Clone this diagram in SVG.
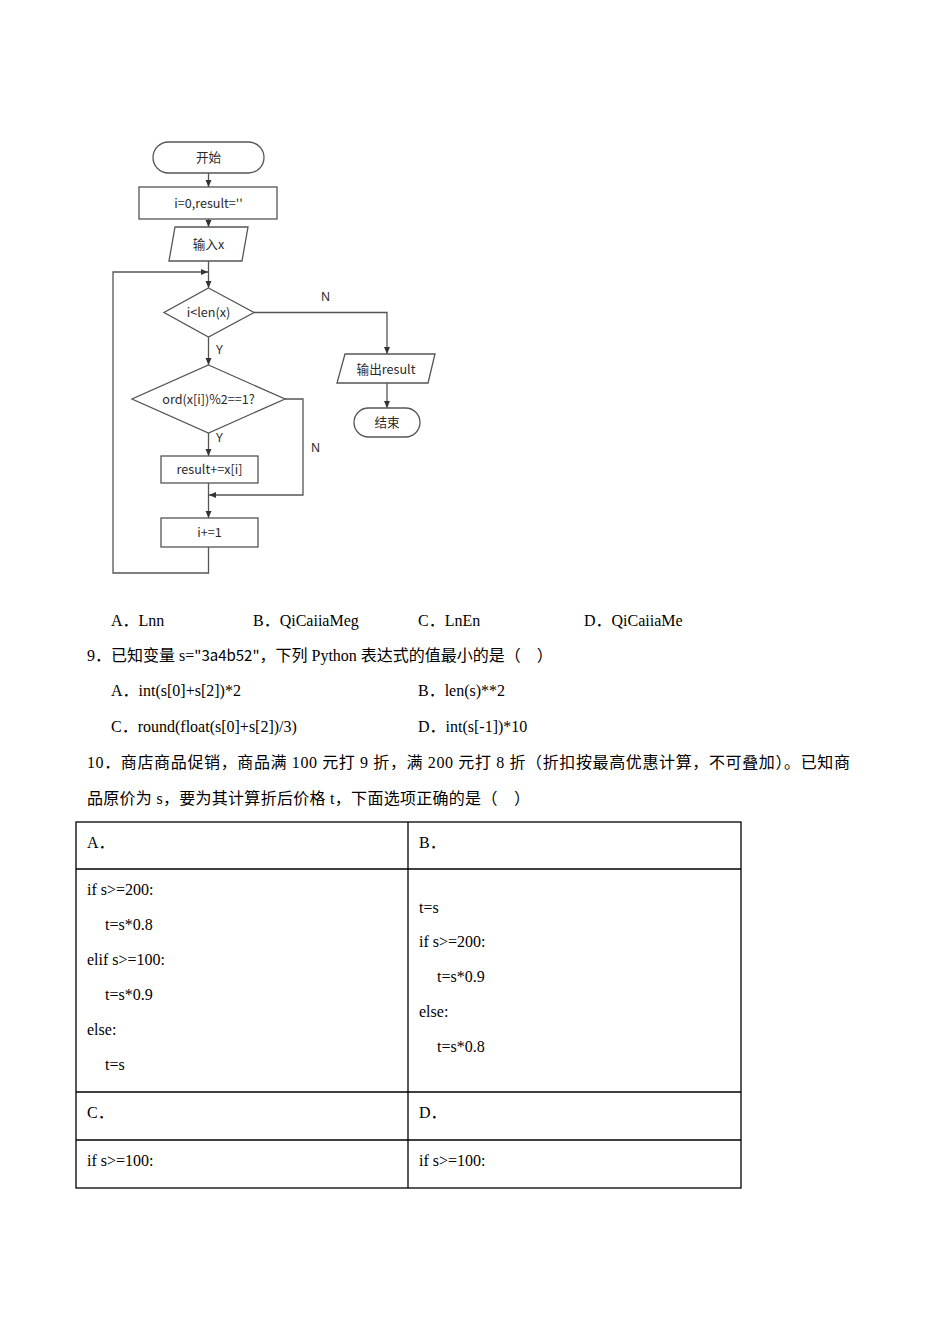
<svg xmlns="http://www.w3.org/2000/svg" width="950" height="1344" viewBox="0 0 950 1344">
<style>
.sh{fill:#fff;stroke:#555;stroke-width:1.3}
.ln{fill:none;stroke:#555;stroke-width:1.3}
.ft{font-family:"Noto Sans CJK SC","Noto Sans",sans-serif;font-size:12.6px;fill:#2a2a2a;text-anchor:middle}
.lb{font-family:"Noto Sans","Noto Sans CJK SC",sans-serif;font-size:12px;fill:#2a2a2a}
.tx{font-family:"Liberation Serif","Noto Sans CJK SC",serif;font-size:16px;fill:#000}
.tb{fill:none;stroke:#000;stroke-width:1.3}
</style>
<defs>
<marker id="ah" markerWidth="8" markerHeight="8" refX="7" refY="4" orient="auto" markerUnits="userSpaceOnUse">
<path d="M0,1 L7,4 L0,7 z" fill="#333"/>
</marker>
</defs>
<rect width="950" height="1344" fill="#fff"/>

<g id="connectors">
<line class="ln" x1="208.5" y1="173" x2="208.5" y2="187" marker-end="url(#ah)"/>
<line class="ln" x1="208.5" y1="219" x2="208.5" y2="227" marker-end="url(#ah)"/>
<line class="ln" x1="208.5" y1="261" x2="208.5" y2="288" marker-end="url(#ah)"/>
<line class="ln" x1="208.5" y1="337" x2="208.5" y2="365" marker-end="url(#ah)"/>
<line class="ln" x1="208.5" y1="433" x2="208.5" y2="456" marker-end="url(#ah)"/>
<line class="ln" x1="208.5" y1="483" x2="208.5" y2="518" marker-end="url(#ah)"/>
<polyline class="ln" points="285,399 303,399 303,495 209,495" marker-end="url(#ah)"/>
<polyline class="ln" points="208.5,547 208.5,573 113,573 113,272 208,272" marker-end="url(#ah)"/>
<polyline class="ln" points="254,312.5 387,312.5 387,354" marker-end="url(#ah)"/>
<line class="ln" x1="387" y1="383" x2="387" y2="408" marker-end="url(#ah)"/>
<text class="lb" x="216" y="354">Y</text>
<text class="lb" x="216" y="442">Y</text>
<text class="lb" x="321" y="301">N</text>
<text class="lb" x="311" y="452">N</text>
</g>

<g id="start">
<rect class="sh" x="153" y="142" width="111" height="31" rx="15.5"/>
<text class="ft" x="208.5" y="162">开始</text>
</g>
<g id="init">
<rect class="sh" x="139" y="187" width="138" height="32"/>
<text class="ft" x="208.5" y="207.5">i=0,result=''</text>
</g>
<g id="input">
<polygon class="sh" points="175,227 248,227 242,261 169,261"/>
<text class="ft" x="208.5" y="248.5">输入x</text>
</g>
<g id="cond1">
<polygon class="sh" points="208.5,288 254,312.5 208.5,337 164,312.5"/>
<text class="ft" x="208.5" y="317">i&lt;len(x)</text>
</g>
<g id="cond2">
<polygon class="sh" points="208.5,365 285,399 208.5,433 132,399"/>
<text class="ft" x="208.5" y="404">ord(x[i])%2==1?</text>
</g>
<g id="append">
<rect class="sh" x="161" y="456" width="97" height="27"/>
<text class="ft" x="209.5" y="474">result+=x[i]</text>
</g>
<g id="incr">
<rect class="sh" x="161" y="518" width="97" height="29"/>
<text class="ft" x="209.5" y="537">i+=1</text>
</g>
<g id="output">
<polygon class="sh" points="345,354 435,354 428,383 337,383"/>
<text class="ft" x="386" y="373.5">输出result</text>
</g>
<g id="end">
<rect class="sh" x="354" y="408" width="66" height="29" rx="14.5"/>
<text class="ft" x="387" y="427">结束</text>
</g>

<g id="questions">
<text class="tx" x="111" y="626">A．Lnn</text>
<text class="tx" x="253" y="626">B．QiCaiiaMeg</text>
<text class="tx" x="418" y="626">C．LnEn</text>
<text class="tx" x="584" y="626">D．QiCaiiaMe</text>
<text class="tx" x="87" y="661">9．已知变量 s=<tspan font-family="Noto Sans CJK SC, sans-serif" font-size="15">"3a4b52"</tspan>，下列 Python 表达式的值最小的是（　）</text>
<text class="tx" x="111" y="696">A．int(s[0]+s[2])*2</text>
<text class="tx" x="418" y="696">B．len(s)**2</text>
<text class="tx" x="111" y="732">C．round(float(s[0]+s[2])/3)</text>
<text class="tx" x="418" y="732">D．int(s[-1])*10</text>
<text class="tx" x="87" y="768" textLength="763" lengthAdjust="spacing">10．商店商品促销，商品满 100 元打 9 折，满 200 元打 8 折（折扣按最高优惠计算，不可叠加）。已知商</text>
<text class="tx" x="87" y="804" textLength="443" lengthAdjust="spacing">品原价为 s，要为其计算折后价格 t，下面选项正确的是（　）</text>
</g>

<g id="table">
<rect class="tb" x="76" y="822" width="665" height="366"/>
<line class="tb" x1="408" y1="822" x2="408" y2="1188"/>
<line class="tb" x1="76" y1="869" x2="741" y2="869"/>
<line class="tb" x1="76" y1="1092" x2="741" y2="1092"/>
<line class="tb" x1="76" y1="1140" x2="741" y2="1140"/>
<text class="tx" x="87" y="848">A．</text>
<text class="tx" x="419" y="848">B．</text>
<text class="tx" x="87" y="895">if s&gt;=200:</text>
<text class="tx" x="105" y="930">t=s*0.8</text>
<text class="tx" x="87" y="965">elif s&gt;=100:</text>
<text class="tx" x="105" y="1000">t=s*0.9</text>
<text class="tx" x="87" y="1035">else:</text>
<text class="tx" x="105" y="1070">t=s</text>
<text class="tx" x="419" y="913">t=s</text>
<text class="tx" x="419" y="947">if s&gt;=200:</text>
<text class="tx" x="437" y="982">t=s*0.9</text>
<text class="tx" x="419" y="1017">else:</text>
<text class="tx" x="437" y="1052">t=s*0.8</text>
<text class="tx" x="87" y="1118">C．</text>
<text class="tx" x="419" y="1118">D．</text>
<text class="tx" x="87" y="1166">if s&gt;=100:</text>
<text class="tx" x="419" y="1166">if s&gt;=100:</text>
</g>
</svg>
